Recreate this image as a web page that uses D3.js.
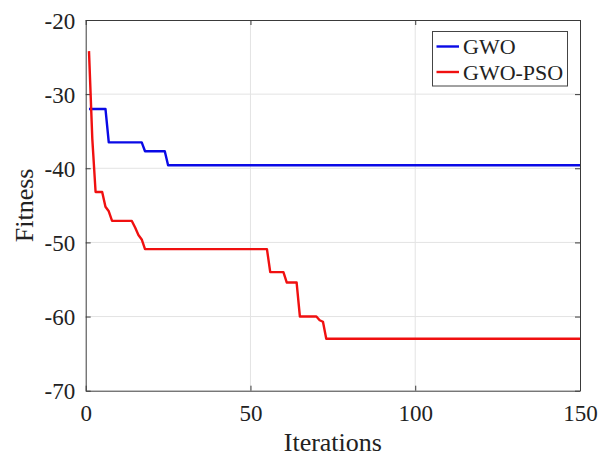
<!DOCTYPE html>
<html>
<head>
<meta charset="utf-8">
<script src="https://cdn.jsdelivr.net/npm/d3@7"></script>
<style>
  html, body { margin: 0; padding: 0; background: #fff; }
  svg { display: block; font-family: "Liberation Serif", "Times New Roman", serif; }
  svg text { font-family: "Liberation Serif", "Times New Roman", serif !important; }
</style>
</head>
<body>
<div id="root"></div>
<script>
// iteration / fitness breakpoints
const gwoIter = [1, 6, 7, 17, 18, 24, 25, 150];
const gwoFit = [-32, -32, -36.5, -36.5, -37.7, -37.7, -39.6, -39.6];

const hybridIter = [1, 2, 3, 5, 6, 7, 8, 14, 15, 16, 17, 18, 55, 56, 60, 61, 64, 65, 70, 71, 72, 73, 150];
const hybridFit = [-24.2, -36, -43.2, -43.2, -45.2, -45.8, -47.1, -47.1, -48, -49, -49.6, -50.9,
  -50.9, -54, -54, -55.4, -55.4, -60, -60, -60.5, -60.7, -63, -63];

const xTicks = [0, 50, 100, 150];
const yTicks = [-70, -60, -50, -40, -30, -20];
const seriesNames = ["GWO", "GWO-PSO"];
const seriesColors = ["#0a0ae6", "#f01010"];

const width = 608;
const height = 457;
const margin = { top: 20, right: 28, bottom: 66.3, left: 85.7 };
const innerW = width - margin.left - margin.right;
const innerH = height - margin.top - margin.bottom;

const svg = d3
  .select("#root")
  .append("svg")
  .attr("width", width)
  .attr("height", height);

const x = d3.scaleLinear().domain([0, 150]).range([0, innerW]);
const y = d3.scaleLinear().domain([-70, -20]).range([innerH, 0]);

const g = svg.append("g").attr("transform", `translate(${margin.left},${margin.top})`);

// grid
g.append("g")
  .selectAll("line")
  .data(xTicks.slice(1, -1))
  .join("line")
  .attr("x1", (d) => x(d))
  .attr("x2", (d) => x(d))
  .attr("y1", 0)
  .attr("y2", innerH)
  .attr("stroke", "#e3e3e3")
  .attr("stroke-width", 1);

g.append("g")
  .selectAll("line")
  .data(yTicks.slice(1, -1))
  .join("line")
  .attr("x1", 0)
  .attr("x2", innerW)
  .attr("y1", (d) => y(d))
  .attr("y2", (d) => y(d))
  .attr("stroke", "#e3e3e3")
  .attr("stroke-width", 1);

// axes, matlab style: ticks pointing inward, box on
const axisColor = "#3a3a3a";
const plain = (d) => String(d); // keep ascii hyphen for negatives
const styleAxis = (sel) => {
  sel.attr("font-family", null).attr("font-size", 23);
  sel.select(".domain").attr("stroke", axisColor);
  sel.selectAll(".tick line").attr("stroke", axisColor);
};

const xAxis = g
  .append("g")
  .attr("transform", `translate(0,${innerH})`)
  .call(d3.axisBottom(x).tickValues(xTicks).tickFormat(plain).tickSizeInner(-5).tickSizeOuter(0).tickPadding(0));
xAxis.call(styleAxis);
xAxis
  .selectAll(".tick text")
  .attr("y", 30)
  .attr("dy", null)
  .attr("fill", "#222");

const yAxis = g
  .append("g")
  .call(d3.axisLeft(y).tickValues(yTicks).tickFormat(plain).tickSizeInner(-5).tickSizeOuter(0).tickPadding(0));
yAxis.call(styleAxis);
yAxis
  .selectAll(".tick text")
  .attr("x", -10.5)
  .attr("dy", "0.35em")
  .attr("fill", "#222");

g.append("g")
  .call(d3.axisTop(x).tickValues(xTicks).tickSizeInner(-5).tickSizeOuter(0).tickFormat(""))
  .call(styleAxis);

g.append("g")
  .attr("transform", `translate(${innerW},0)`)
  .call(d3.axisRight(y).tickValues(yTicks).tickSizeInner(-5).tickSizeOuter(0).tickFormat(""))
  .call(styleAxis);

// curves
const line = d3
  .line()
  .x((d) => x(d[0]))
  .y((d) => y(d[1]));

const series = [
  d3.zip(gwoIter, gwoFit),
  d3.zip(hybridIter, hybridFit),
];

g.append("g")
  .selectAll("path")
  .data(series)
  .join("path")
  .attr("d", line)
  .attr("fill", "none")
  .attr("stroke", (d, i) => seriesColors[i])
  .attr("stroke-width", 2.4)
  .attr("stroke-linejoin", "round");

// axis titles
svg
  .append("text")
  .text("Iterations")
  .attr("x", margin.left + innerW / 2)
  .attr("y", 451)
  .attr("text-anchor", "middle")
  .attr("fill", "#222")
  .style("font-size", "26px");

svg
  .append("text")
  .text("Fitness")
  .attr("transform", `translate(33,${margin.top + innerH / 2}) rotate(-90)`)
  .attr("text-anchor", "middle")
  .attr("fill", "#222")
  .style("font-size", "26px");

// legend
const legend = svg.append("g").attr("transform", "translate(432.5,31.5)");
legend
  .append("rect")
  .attr("width", 135)
  .attr("height", 54.5)
  .attr("fill", "#fff")
  .attr("stroke", "#444")
  .attr("stroke-width", 1);

const item = legend
  .selectAll("g")
  .data(seriesNames)
  .join("g")
  .attr("transform", (d, i) => `translate(0,${15 + i * 25.5})`);

item
  .append("line")
  .attr("x1", 4)
  .attr("x2", 26.5)
  .attr("stroke", (d, i) => seriesColors[i])
  .attr("stroke-width", 2.4);

item
  .append("text")
  .text((d) => d)
  .attr("x", 30.5)
  .attr("y", 7.8)
  .attr("fill", "#222")
  .style("font-size", "22px");
</script>
</body>
</html>
